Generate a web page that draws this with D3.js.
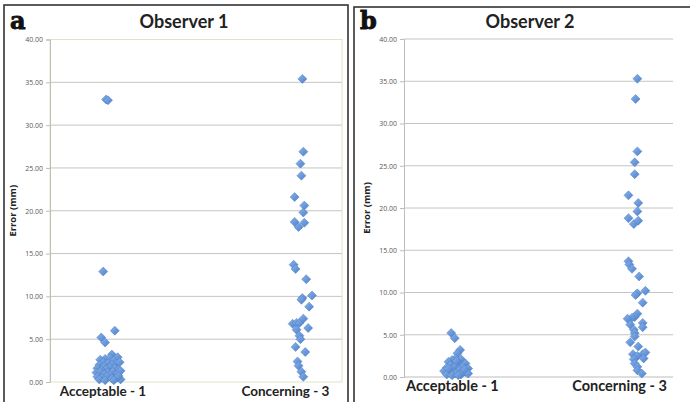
<!DOCTYPE html>
<html>
<head>
<meta charset="utf-8">
<script src="https://cdn.jsdelivr.net/npm/d3@7"></script>
<style>
  body { margin: 0; background: #fff; }
  svg { display: block; }
</style>
</head>
<body>
<div id="chart"></div>
<script>
// Category labels and y ticks
var categories = ["Acceptable - 1", "Concerning - 3"];
var categoryX = [1, 3];
var yTicks = [0, 5, 10, 15, 20, 25, 30, 35, 40];

// Points are [x offset from the category, error in mm]
var obs1Acceptable = [
  [-0.02, 33.0], [0.00, 32.9], [-0.05, 12.9], [-0.07, 5.2], [-0.03, 4.6], [0.07, 6.0],
  [0.04, 3.2], [0.10, 2.9], [-0.03, 2.7], [0.02, 2.8], [-0.08, 2.6], [0.06, 2.5],
  [-0.05, 2.3], [0.00, 2.2], [0.08, 2.1], [-0.09, 2.0], [0.04, 2.0], [0.12, 2.3],
  [-0.04, 1.8], [0.02, 1.7], [-0.11, 1.6], [0.07, 1.6], [-0.02, 1.5], [0.11, 1.4], [-0.07, 1.4],
  [-0.12, 1.1], [-0.08, 1.2], [0.00, 1.1], [0.05, 1.2], [0.10, 1.0], [-0.04, 0.9], [0.13, 1.3], [0.02, 0.8],
  [-0.11, 0.6], [-0.06, 0.5], [-0.01, 0.6], [0.04, 0.4], [0.09, 0.5], [0.13, 0.3],
  [-0.09, 0.3], [-0.03, 0.2], [0.06, 0.2], [0.11, 0.7]
];
var obs1Concerning = [
  [0.01, 35.4], [0.02, 26.9], [-0.01, 25.5], [0.00, 24.1], [-0.07, 21.6], [0.03, 20.6],
  [0.02, 19.8], [-0.07, 18.7], [-0.03, 18.1], [0.03, 18.6], [-0.08, 13.7], [-0.06, 13.2],
  [0.05, 12.0], [0.01, 9.8], [0.11, 10.1], [0.00, 9.6], [0.08, 8.8], [-0.09, 6.8],
  [-0.05, 6.9], [-0.02, 6.9], [0.02, 7.4], [0.07, 6.3], [-0.05, 6.1], [-0.02, 5.4],
  [-0.01, 5.0], [-0.06, 4.1], [0.04, 3.5], [-0.04, 2.4], [-0.03, 1.9], [0.00, 1.2], [0.02, 0.6]
];
var obs2Acceptable = [
  [-0.07, 5.2], [-0.03, 4.6], [0.03, 3.2], [0.00, 2.8], [-0.02, 2.2],
  [-0.06, 2.0], [0.04, 2.1], [-0.10, 1.8], [0.01, 1.7], [0.09, 1.6], [-0.08, 1.4],
  [-0.02, 1.3], [0.06, 1.2], [-0.12, 1.1], [0.12, 1.0], [-0.06, 0.9], [0.02, 0.8],
  [-0.15, 0.7], [0.09, 0.6], [-0.09, 0.5], [-0.02, 0.4], [0.04, 0.3], [0.12, 0.4],
  [-0.12, 0.3], [-0.06, 0.2], [0.01, 0.2], [0.08, 0.9], [-0.10, 1.0], [-0.01, 1.9]
];
var obs2Concerning = [
  [0.02, 35.3], [0.00, 32.9], [0.02, 26.7], [-0.01, 25.4], [-0.01, 24.0], [-0.08, 21.5],
  [0.03, 20.6], [0.02, 19.6], [-0.08, 18.8], [-0.02, 18.1], [0.03, 18.5], [-0.08, 13.7],
  [-0.07, 13.3], [-0.04, 12.8], [0.04, 11.9], [0.11, 10.2], [0.02, 9.9], [0.00, 9.7],
  [0.08, 8.8], [0.02, 7.5], [-0.01, 7.1], [-0.04, 7.0], [-0.09, 6.9], [-0.06, 6.2],
  [0.08, 6.4], [0.08, 5.9], [-0.02, 5.6], [-0.01, 5.2], [-0.01, 4.8], [-0.06, 4.1],
  [0.03, 3.6], [-0.03, 2.7], [0.08, 2.7], [0.11, 2.9], [0.02, 2.5], [-0.02, 2.1],
  [0.09, 2.2], [-0.01, 1.6], [0.02, 1.2], [0.02, 0.8], [0.07, 0.4]
];

var panels = [
  {letter: "a", title: "Observer 1", series: [obs1Acceptable, obs1Concerning],
   frame: {x: 4, y: 5, w: 344}, plot: {left: 50, right: 342, top: 39.5, bottom: 382},
   greenBorder: true, catSize: 13.5, titleX: 184},
  {letter: "b", title: "Observer 2", series: [obs2Acceptable, obs2Concerning],
   frame: {x: 354, y: 7, w: 350}, plot: {left: 404, right: 673, top: 39, bottom: 377},
   greenBorder: false, catSize: 14.5, titleX: 530}
];

var width = 690, height = 402;
var svg = d3.select("#chart").append("svg")
  .attr("width", width)
  .attr("height", height);

var defs = svg.append("defs");
var grad = defs.append("linearGradient")
  .attr("id", "dia")
  .attr("x1", "0").attr("y1", "0").attr("x2", "1").attr("y2", "1");
grad.append("stop").attr("offset", "0%").attr("stop-color", "#8db4ea");
grad.append("stop").attr("offset", "100%").attr("stop-color", "#4a7fcc");

panels.forEach(function(p) { drawPanel(p); });

/*drawPanel: draws one observer's scatter with its frame, axis and labels*/
function drawPanel(p) {
  var g = svg.append("g");
  var pl = p.plot;

  // outer frame (bottom runs off the page)
  g.append("rect")
    .attr("x", p.frame.x).attr("y", p.frame.y)
    .attr("width", p.frame.w).attr("height", 420)
    .attr("fill", "none")
    .attr("stroke", "#333")
    .attr("stroke-width", 1.6);

  var x = d3.scaleLinear().domain([0.4, 3.42]).range([pl.left, pl.right]);
  var y = d3.scaleLinear().domain([0, 40]).range([pl.bottom, pl.top]);

  // gridlines
  g.append("g").selectAll("line")
    .data(yTicks.filter(function(t) { return t > 0 && (t < 40 || !p.greenBorder); }))
    .join("line")
    .attr("x1", pl.left).attr("x2", pl.right)
    .attr("y1", function(d) { return y(d); })
    .attr("y2", function(d) { return y(d); })
    .attr("stroke", "#c4c4c4")
    .attr("stroke-width", 1);

  if (p.greenBorder) {
    g.append("rect")
      .attr("x", pl.left).attr("y", pl.top)
      .attr("width", pl.right - pl.left).attr("height", pl.bottom - pl.top)
      .attr("fill", "none")
      .attr("stroke", "#dbe5c3")
      .attr("stroke-width", 1);
  } else {
    g.append("line")
      .attr("x1", pl.left).attr("x2", pl.right)
      .attr("y1", y(0)).attr("y2", y(0))
      .attr("stroke", "#bdbdbd");
  }

  // y axis
  var axis = g.append("g")
    .attr("transform", "translate(" + pl.left + ",0)")
    .call(d3.axisLeft(y).tickValues(yTicks).tickSize(4).tickPadding(3)
      .tickFormat(d3.format(".2f")));
  axis.select(".domain").attr("stroke", "#bdbdbd");
  axis.selectAll(".tick line").attr("stroke", "#bdbdbd");
  axis.selectAll(".tick text")
    .attr("fill", "#595959")
    .style("font-family", "'Open Sans', sans-serif")
    .style("font-size", "7px");

  // y label
  g.append("text")
    .attr("transform", "translate(" + (pl.left - 34) + "," + ((pl.top + pl.bottom) / 2) + ") rotate(-90)")
    .attr("text-anchor", "middle")
    .style("font-family", "'Open Sans', sans-serif")
    .style("font-weight", "bold")
    .style("font-size", "9.5px")
    .attr("fill", "#222")
    .text("Error (mm)");

  // title and panel letter
  g.append("text")
    .attr("x", p.titleX).attr("y", 28)
    .attr("text-anchor", "middle")
    .style("font-family", "Lato, sans-serif")
    .style("font-weight", "bold")
    .style("font-size", "18px")
    .attr("fill", "#222")
    .text(p.title);

  g.append("text")
    .attr("x", p.frame.x + 6).attr("y", 29)
    .style("font-family", "'DejaVu Serif', serif")
    .style("font-weight", "900")
    .style("font-size", "24px")
    .attr("fill", "#111")
    .attr("stroke", "#111")
    .attr("stroke-width", 0.9)
    .text(p.letter);

  // category labels
  g.append("g").selectAll("text")
    .data(categories)
    .join("text")
    .attr("x", function(d, i) { return x(categoryX[i]) + (i == 0 ? -5 : -16); })
    .attr("y", pl.bottom + 14)
    .attr("text-anchor", "middle")
    .style("font-family", "Lato, sans-serif")
    .style("font-weight", "bold")
    .style("font-size", p.catSize + "px")
    .attr("fill", "#222")
    .text(function(d) { return d; });

  // diamonds
  var r = 4.5;
  p.series.forEach(function(pts, i) {
    g.append("g").selectAll("path")
      .data(pts)
      .join("path")
      .attr("transform", function(d) {
        return "translate(" + x(categoryX[i] + d[0]) + "," + y(d[1]) + ")";
      })
      .attr("d", "M0," + (-r) + "L" + r + ",0L0," + r + "L" + (-r) + ",0Z")
      .attr("fill", "url(#dia)")
      .attr("stroke", "#4a7cc4")
      .attr("stroke-width", 0.5);
  });
}
</script>
</body>
</html>
